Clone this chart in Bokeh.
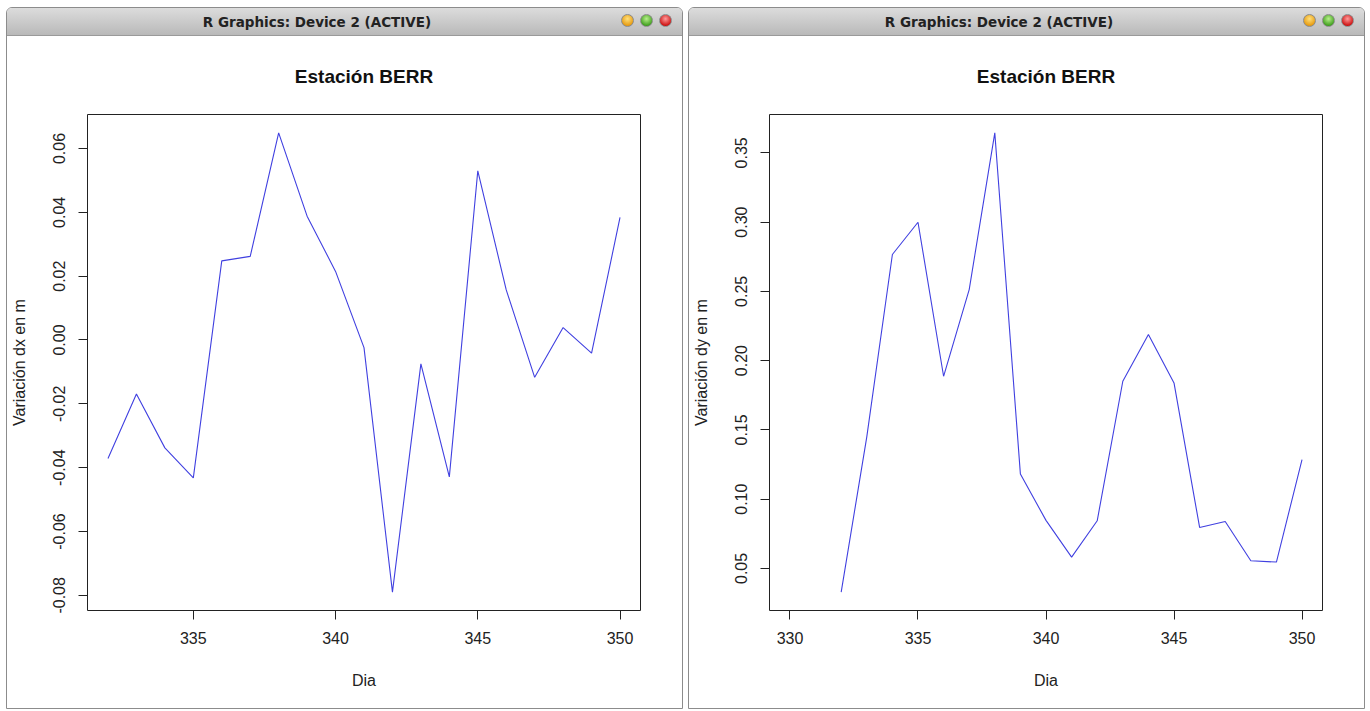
from bokeh.plotting import figure
from bokeh.models import Div, FixedTicker, NumeralTickFormatter, Range1d
from bokeh.layouts import column, row
from bokeh.embed import file_html
from bokeh.resources import INLINE

# Daily displacement of station BERR
dias = [332, 333, 334, 335, 336, 337, 338, 339, 340, 341,
        342, 343, 344, 345, 346, 347, 348, 349, 350]
dx = [-0.0371, -0.0169, -0.0338, -0.0432, 0.0248, 0.0262, 0.0649, 0.0388, 0.0215, -0.0024,
      -0.0790, -0.0075, -0.0429, 0.0530, 0.0157, -0.0117, 0.0039, -0.0041, 0.0384]
dy = [0.0329, 0.1450, 0.2766, 0.2999, 0.1887, 0.2513, 0.3644, 0.1181, 0.0847, 0.0582,
      0.0844, 0.1851, 0.2188, 0.1839, 0.0796, 0.0839, 0.0555, 0.0546, 0.1285]

titulo = "Estación BERR"
ventana = "R Graphics: Device 2 (ACTIVE)"
xlab = "Dia"
ylab_dx = "Variación dx en m"
ylab_dy = "Variación dy en m"

x_ticks_dx = [335, 340, 345, 350]
x_ticks_dy = [330, 335, 340, 345, 350]
y_ticks_dx = [-0.08, -0.06, -0.04, -0.02, 0.00, 0.02, 0.04, 0.06]
y_ticks_dy = [0.05, 0.10, 0.15, 0.20, 0.25, 0.30, 0.35]
xlim_dy = (330, 350)

WIN_W = 675
BAR_H = 28
FIG_H = 672
FONT = "Liberation Sans"


def padded(lo, hi):
    pad = 0.04 * (hi - lo)
    return Range1d(lo - pad, hi + pad)


def title_bar():
    circles = ""
    for off, c1, c2 in [(614, "#ffe07a", "#e69a10"),
                        (633, "#b8f08a", "#3f9e1e"),
                        (652, "#ff9a9a", "#cc1010")]:
        circles += (
            f'<span style="position:absolute;left:{off}px;top:6px;width:13px;height:13px;'
            f'border-radius:50%;border:1px solid #8a8a8a;'
            f'background:radial-gradient(circle at 50% 35%, {c1}, {c2} 75%);"></span>'
        )
    html = (
        f'<div style="position:relative;width:{WIN_W}px;height:{BAR_H}px;box-sizing:border-box;'
        f'background:linear-gradient(#dcdcdc,#b9b9b9);border-radius:5px 5px 0 0;'
        f'border-bottom:1px solid #9a9a9a;">'
        f'<span style="position:absolute;left:0;width:620px;top:5px;text-align:center;'
        f'font-family:\'DejaVu Sans\';font-weight:bold;font-size:13.5px;color:#222;">{ventana}</span>'
        f'{circles}</div>'
    )
    return Div(text=html, width=WIN_W, height=BAR_H, margin=(0, 0, 0, 0))


def panel(x, y, x_range, y_ticks, x_ticks, ylab, yfmt):
    p = figure(width=WIN_W, height=FIG_H, output_backend="svg", toolbar_location=None,
               x_range=x_range, y_range=padded(min(y), max(y)),
               min_border_left=79, min_border_right=42, min_border_top=78, min_border_bottom=98,
               background_fill_color="white", border_fill_color="white",
               outline_line_color="#222222", outline_line_width=1,
               title=titulo, margin=(0, 0, 0, 0))
    p.title.text_font = FONT
    p.title.text_font_size = "19px"
    p.title.text_font_style = "bold"
    p.title.align = "center"
    p.title.text_color = "#111111"
    p.title.standoff = 55
    p.grid.visible = False

    p.line(x, y, line_color="#4040e0", line_width=1.1)

    for ax in (p.xaxis[0], p.yaxis[0]):
        ax.axis_line_color = None
        ax.major_tick_line_color = "#222222"
        ax.major_tick_in = 0
        ax.major_tick_out = 9
        ax.minor_tick_line_color = None
        ax.major_label_text_font = FONT
        ax.major_label_text_font_size = "16px"
        ax.major_label_text_color = "#222222"
        ax.axis_label_text_font = FONT
        ax.axis_label_text_font_size = "16px"
        ax.axis_label_text_font_style = "normal"
        ax.axis_label_text_color = "#222222"

    p.xaxis.ticker = FixedTicker(ticks=x_ticks)
    p.xaxis.formatter = NumeralTickFormatter(format="0")
    p.xaxis.axis_label = xlab
    p.xaxis.major_label_standoff = 12
    p.xaxis.axis_label_standoff = 25

    p.yaxis.ticker = FixedTicker(ticks=y_ticks)
    p.yaxis.formatter = NumeralTickFormatter(format=yfmt)
    p.yaxis.major_label_orientation = "vertical"
    p.yaxis.axis_label = ylab
    p.yaxis.major_label_standoff = 13
    p.yaxis.axis_label_standoff = 23
    return p


p_dx = panel(dias, dx, padded(min(dias), max(dias)), y_ticks_dx, x_ticks_dx, ylab_dx, "0.00")
p_dy = panel(dias, dy, padded(*xlim_dy), y_ticks_dy, x_ticks_dy, ylab_dy, "0.00")

win_style = {"outline": "1px solid #8c8c8c", "border-radius": "5px 5px 0 0", "background": "white"}
w1 = column(title_bar(), p_dx, spacing=0, styles=win_style, margin=(0, 0, 0, 0))
w2 = column(title_bar(), p_dy, spacing=0, styles=win_style, margin=(0, 0, 0, 0))
page = row(w1, w2, spacing=7, margin=(8, 0, 0, 7))

open("out.html", "w").write(file_html(page, INLINE, title=titulo))
